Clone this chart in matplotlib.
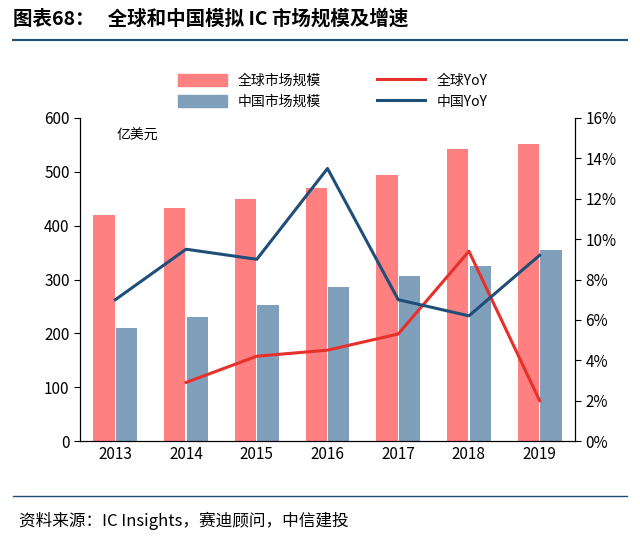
import numpy as np
import matplotlib.pyplot as plt
from matplotlib.lines import Line2D

plt.rcParams['font.family'] = ['Noto Sans CJK SC', 'DejaVu Sans']

years = ['2013', '2014', '2015', '2016', '2017', '2018', '2019']
global_size = [420, 432, 450, 470, 495, 542, 552]
china_size = [210, 231, 252, 286, 306, 325, 355]
global_yoy = [None, 2.9, 4.2, 4.5, 5.3, 9.4, 2.0]
china_yoy = [7.0, 9.5, 9.0, 13.5, 7.0, 6.2, 9.2]

fig = plt.figure(figsize=(6.4, 5.36), dpi=100)
ax = fig.add_axes([80/640, 1-441/536, 495/640, 323/536])
x = np.arange(len(years))
w = 0.3
ax.bar(x - 0.16, global_size, w, color='#FF8080', label='全球市场规模')
ax.bar(x + 0.16, china_size, w, color='#7F9FBA', label='中国市场规模')
ax.set_ylim(0, 600)
ax.set_xlim(-0.5, 6.5)
ax.set_xticks(x, years)
ax.set_yticks(range(0, 601, 100))
ax.tick_params(labelsize=11, length=0)
ax.tick_params(axis='y', length=4, direction='out')
for s in ['top']:
    ax.spines[s].set_visible(False)
ax.text(0.02, 560, '亿美元', fontsize=10)

ax2 = ax.twinx()
gx = [i for i, v in enumerate(global_yoy) if v is not None]
gy = [v for v in global_yoy if v is not None]
ax2.plot(gx, gy, color='#E8302A', lw=2.2)
ax2.plot(x, china_yoy, color='#1F4E79', lw=2.2)
ax2.set_ylim(0, 16)
ax2.set_yticks(range(0, 17, 2))
ax2.set_yticklabels([f'{v}%' for v in range(0, 17, 2)])
ax2.tick_params(labelsize=11, length=4)
ax2.spines['top'].set_visible(False)

handles = [plt.Rectangle((0, 0), 1, 1, color='#FF8080'),
           plt.Rectangle((0, 0), 1, 1, color='#7F9FBA'),
           Line2D([], [], color='#E8302A', lw=2.2),
           Line2D([], [], color='#1F4E79', lw=2.2)]
labels = ['全球市场规模', '中国市场规模', '全球YoY', '中国YoY']
fig.legend(handles, labels, ncol=2, loc='center', bbox_to_anchor=(0.52, 0.83),
           frameon=False, fontsize=10, handlelength=3.5, columnspacing=4, handleheight=0.9)

fig.text(0.02, 0.965, '图表68：   全球和中国模拟 IC 市场规模及增速', fontsize=14,
         fontweight='bold', va='center')
fig.add_artist(Line2D([0.02, 0.98], [0.925, 0.925], color='#1F4E79', lw=1.5))
fig.add_artist(Line2D([0.02, 0.98], [0.075, 0.075], color='#1F4E79', lw=1))
fig.text(0.03, 0.028, '资料来源：IC Insights，赛迪顾问，中信建投', fontsize=12,
         style='italic', va='center')

fig.savefig('out.png', dpi=100)
